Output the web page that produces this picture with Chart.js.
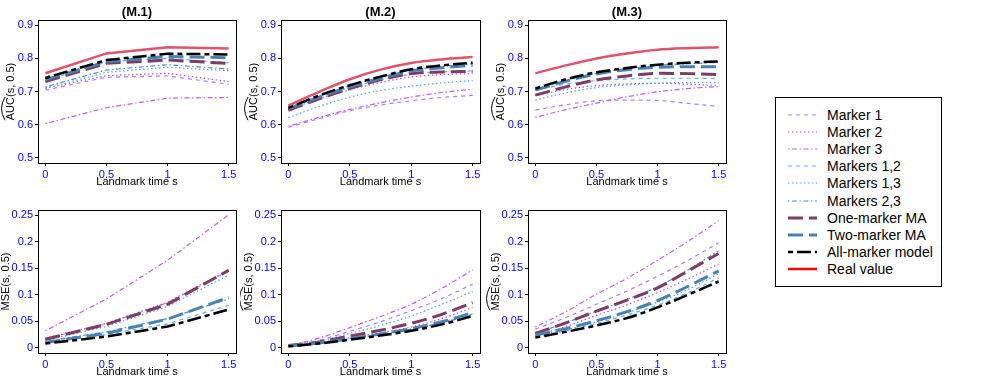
<!DOCTYPE html>
<html>
<head>
<meta charset="utf-8">
<script src="https://cdn.jsdelivr.net/npm/chart.js@4.4.1/dist/chart.umd.min.js"></script>
<style>
  body { margin: 0; background: #fff; font-family: Arial, "Liberation Sans", sans-serif; }
  #wrap { position: relative; width: 981px; height: 382px; overflow: hidden; }
  #wrap canvas { position: absolute; }
  #legend { position: absolute; left: 775px; top: 97px; width: 167px; height: 190px;
            border: 1px solid #000; box-sizing: border-box; }
  .row { position: absolute; left: 0; height: 18px; width: 165px; }
  .row svg { position: absolute; left: 11px; top: 7px; }
  .row span { position: absolute; left: 51px; top: 0; line-height: 18px; font-size: 14px; color: #000; white-space: nowrap; }
</style>
</head>
<body>
<div id="wrap">
  <canvas id="a1"></canvas><canvas id="a2"></canvas><canvas id="a3"></canvas>
  <canvas id="b1"></canvas><canvas id="b2"></canvas><canvas id="b3"></canvas>
  <div id="legend"></div>
</div>
<script>
// landmark times
const sM1 = [0, 0.5, 1, 1.5];
const sM23 = [0, 0.25, 0.5, 0.75, 1, 1.25, 1.5];

const seriesNames = ["Marker 1", "Marker 2", "Marker 3", "Markers 1,2", "Markers 1,3", "Markers 2,3",
  "One-marker MA", "Two-marker MA", "All-marker model", "Real value"];

const xTicks = [0, 0.5, 1, 1.5];
const aucTicks = [0.5, 0.6, 0.7, 0.8, 0.9];
const mseTicks = [0, 0.05, 0.1, 0.15, 0.2, 0.25];

// AUC(s, 0.5), rows follow seriesNames
const aucM1 = [
  [0.704, 0.743, 0.747, 0.722],
  [0.710, 0.748, 0.755, 0.730],
  [0.603, 0.651, 0.680, 0.682],
  [0.733, 0.790, 0.800, 0.787],
  [0.709, 0.758, 0.773, 0.763],
  [0.714, 0.765, 0.781, 0.768],
  [0.730, 0.785, 0.795, 0.785],
  [0.736, 0.790, 0.806, 0.802],
  [0.741, 0.795, 0.814, 0.812],
  [0.755, 0.815, 0.834, 0.830]
];
const aucM2 = [
  [0.592, 0.618, 0.642, 0.659, 0.672, 0.682, 0.688],
  [0.645, 0.678, 0.705, 0.727, 0.744, 0.751, 0.754],
  [0.595, 0.622, 0.646, 0.666, 0.683, 0.697, 0.707],
  [0.648, 0.682, 0.712, 0.735, 0.752, 0.759, 0.762],
  [0.621, 0.655, 0.683, 0.703, 0.716, 0.726, 0.733],
  [0.650, 0.686, 0.717, 0.743, 0.764, 0.776, 0.784],
  [0.643, 0.678, 0.709, 0.735, 0.754, 0.759, 0.761],
  [0.648, 0.683, 0.714, 0.740, 0.762, 0.772, 0.779],
  [0.651, 0.688, 0.719, 0.745, 0.767, 0.779, 0.787],
  [0.658, 0.699, 0.737, 0.766, 0.786, 0.797, 0.804]
];
const aucM3 = [
  [0.644, 0.660, 0.672, 0.674, 0.673, 0.664, 0.655],
  [0.688, 0.706, 0.718, 0.723, 0.725, 0.722, 0.718],
  [0.622, 0.645, 0.665, 0.684, 0.699, 0.709, 0.715],
  [0.705, 0.722, 0.733, 0.738, 0.740, 0.740, 0.739],
  [0.674, 0.696, 0.712, 0.720, 0.725, 0.727, 0.727],
  [0.706, 0.734, 0.755, 0.769, 0.779, 0.784, 0.788],
  [0.689, 0.714, 0.735, 0.747, 0.755, 0.754, 0.751],
  [0.704, 0.731, 0.753, 0.766, 0.773, 0.775, 0.775],
  [0.709, 0.737, 0.758, 0.771, 0.781, 0.787, 0.791],
  [0.755, 0.779, 0.800, 0.815, 0.826, 0.831, 0.834]
];

// MSE(s, 0.5), no real value row
const mseM1 = [
  [0.017, 0.045, 0.085, 0.145],
  [0.018, 0.046, 0.086, 0.147],
  [0.032, 0.092, 0.165, 0.251],
  [0.010, 0.025, 0.045, 0.080],
  [0.014, 0.040, 0.078, 0.137],
  [0.012, 0.030, 0.055, 0.092],
  [0.016, 0.044, 0.082, 0.146],
  [0.010, 0.027, 0.054, 0.095],
  [0.008, 0.021, 0.040, 0.072],
  null
];
const mseM2 = [
  [0.003, 0.014, 0.031, 0.049, 0.070, 0.093, 0.120],
  [0.003, 0.010, 0.019, 0.028, 0.039, 0.055, 0.076],
  [0.004, 0.018, 0.038, 0.059, 0.082, 0.112, 0.147],
  [0.003, 0.009, 0.017, 0.026, 0.035, 0.048, 0.064],
  [0.003, 0.012, 0.027, 0.042, 0.060, 0.082, 0.106],
  [0.003, 0.009, 0.017, 0.025, 0.035, 0.047, 0.063],
  [0.004, 0.011, 0.022, 0.033, 0.046, 0.063, 0.085],
  [0.003, 0.009, 0.017, 0.026, 0.036, 0.049, 0.066],
  [0.0025, 0.008, 0.015, 0.023, 0.032, 0.044, 0.060],
  null
];
const mseM3 = [
  [0.035, 0.057, 0.082, 0.107, 0.135, 0.165, 0.198],
  [0.022, 0.040, 0.061, 0.081, 0.104, 0.130, 0.158],
  [0.039, 0.068, 0.101, 0.131, 0.165, 0.201, 0.240],
  [0.021, 0.032, 0.046, 0.062, 0.080, 0.104, 0.132],
  [0.022, 0.034, 0.049, 0.066, 0.086, 0.110, 0.140],
  [0.027, 0.047, 0.069, 0.091, 0.115, 0.147, 0.183],
  [0.027, 0.047, 0.069, 0.090, 0.113, 0.145, 0.178],
  [0.024, 0.036, 0.051, 0.068, 0.089, 0.116, 0.145],
  [0.019, 0.030, 0.042, 0.056, 0.076, 0.100, 0.125],
  null
];

// styles
const lineColors = ["#a97cff", "#b64fd8", "#c85ae8", "#5aaeff", "#4aa3ee", "#4a8fd0",
  "#7f3b63", "#4682b4", "#000000", "#df536b"];
const legendColors = lineColors.slice(0, 9).concat(["#ff0000"]);
const lineWidths = [1.2, 1.2, 1.2, 1.2, 1.2, 1.2, 3, 3, 2.5, 2.5];
const lineDashes = [[4, 4], [1.5, 2.5], [1.5, 2.5, 5, 2.5], [4, 4], [1.5, 2.5], [1.5, 2.5, 5, 2.5],
  [15, 6], [15, 6], [5, 4, 14, 4], []];

const FONT = 'Arial, "Liberation Sans", sans-serif';

// box, title and hatted y label, drawn like base R
const decor = {
  id: "decor",
  afterDraw(chart, args, o) {
    const { ctx, chartArea: a } = chart;
    ctx.save();
    ctx.strokeStyle = "#000";
    ctx.lineWidth = 1;
    ctx.strokeRect(Math.round(a.left) + 0.5, Math.round(a.top) + 0.5,
      Math.round(a.right - a.left), Math.round(a.bottom - a.top));
    ctx.fillStyle = "#000";
    if (o.title) {
      ctx.font = "bold 13px " + FONT;
      ctx.textAlign = "center";
      ctx.textBaseline = "middle";
      ctx.fillText(o.title, (a.left + a.right) / 2, o.titleY);
    }
    ctx.translate(a.left - o.labOff, (a.top + a.bottom) / 2);
    ctx.rotate(-Math.PI / 2);
    ctx.font = "11px " + FONT;
    const full = o.word + "(s, 0.5)";
    const W = ctx.measureText(full).width;
    const w1 = ctx.measureText(o.word).width;
    ctx.textAlign = "left";
    ctx.textBaseline = "middle";
    ctx.fillText(full, -W / 2, 0);
    const x0 = -W / 2, x1 = -W / 2 + w1, yb = -6;
    ctx.beginPath();
    ctx.moveTo(x0, yb);
    ctx.quadraticCurveTo((x0 + x1) / 2, yb - 7, x1, yb);
    ctx.stroke();
    ctx.restore();
  }
};

function makePanel(id, geo, xs, rows, yMin, yMax, yTicks, word, title, smooth) {
  const cv = document.getElementById(id);
  cv.width = geo.w; cv.height = geo.h;
  cv.style.left = geo.x + "px"; cv.style.top = geo.y + "px";
  const datasets = [];
  rows.forEach((row, i) => {
    if (!row) return;
    datasets.push({
      label: seriesNames[i],
      data: row.map((v, j) => ({ x: xs[j], y: v })),
      borderColor: lineColors[i],
      borderWidth: lineWidths[i],
      borderDash: lineDashes[i],
      pointRadius: 0,
      fill: false,
      tension: 0,
      cubicInterpolationMode: smooth ? "monotone" : "default",
      order: seriesNames.length - i
    });
  });
  const tickFont = { family: FONT, size: 11 };
  new Chart(cv, {
    type: "line",
    data: { datasets },
    options: {
      responsive: false,
      animation: false,
      devicePixelRatio: 1,
      layout: { padding: { left: 0, top: geo.boxT - geo.y, right: geo.x + geo.w - geo.boxR, bottom: 0 } },
      plugins: {
        legend: { display: false },
        tooltip: { enabled: false },
        decor: { title, titleY: 12, labOff: word === "AUC" ? 27 : 32, word }
      },
      scales: {
        x: {
          type: "linear", min: -0.06, max: 1.56,
          afterBuildTicks: s => { s.ticks = xTicks.map(v => ({ value: v })); },
          afterFit: s => { s.height = geo.y + geo.h - geo.boxB; },
          ticks: { color: "#0000ff", font: tickFont, padding: 2, maxRotation: 0, autoSkip: false,
                   callback: v => String(v) },
          grid: { drawOnChartArea: false, drawTicks: true, tickLength: 3, color: "#000" },
          border: { display: false },
          title: { display: true, text: "Landmark time s", color: "#000",
                   font: { family: FONT, size: 11 }, padding: { top: 0, bottom: geo.xTitlePad } }
        },
        y: {
          type: "linear", min: yMin, max: yMax,
          afterBuildTicks: s => { s.ticks = yTicks.map(v => ({ value: v })); },
          afterFit: s => { s.width = geo.boxL - geo.x; },
          ticks: { color: "#0000ff", font: tickFont, padding: 2, autoSkip: false,
                   callback: v => String(+v.toFixed(2)) },
          grid: { drawOnChartArea: false, drawTicks: true, tickLength: 3, color: "#000" },
          border: { display: false }
        }
      }
    },
    plugins: [decor]
  });
}

const rowTop = { y: 0, h: 191, boxT: 20, boxB: 163, xTitlePad: 2 };
const rowBot = { y: 191, h: 191, boxT: 210, boxB: 353, xTitlePad: 3 };
const col1 = { x: 0, w: 240, boxL: 38, boxR: 236 };
const col2 = { x: 240, w: 248, boxL: 281, boxR: 480 };
const col3 = { x: 486, w: 254, boxL: 528, boxR: 726 };

makePanel("a1", { ...rowTop, ...col1 }, sM1, aucM1, 0.484, 0.916, aucTicks, "AUC", "(M.1)", false);
makePanel("a2", { ...rowTop, ...col2 }, sM23, aucM2, 0.484, 0.916, aucTicks, "AUC", "(M.2)", true);
makePanel("a3", { ...rowTop, ...col3 }, sM23, aucM3, 0.484, 0.916, aucTicks, "AUC", "(M.3)", true);
makePanel("b1", { ...rowBot, ...col1 }, sM1, mseM1, -0.01, 0.26, mseTicks, "MSE", null, false);
makePanel("b2", { ...rowBot, ...col2 }, sM23, mseM2, -0.01, 0.26, mseTicks, "MSE", null, true);
makePanel("b3", { ...rowBot, ...col3 }, sM23, mseM3, -0.01, 0.26, mseTicks, "MSE", null, true);

// legend
const legendBox = document.getElementById("legend");
seriesNames.forEach((name, i) => {
  const row = document.createElement("div");
  row.className = "row";
  row.style.top = (17 + i * 17.1 - 9) + "px";
  const dash = lineDashes[i].length ? lineDashes[i].join(" ") : "none";
  row.innerHTML = '<svg width="32" height="4"><line x1="1" y1="2" x2="30" y2="2" stroke="' + legendColors[i] +
    '" stroke-width="' + lineWidths[i] + '" stroke-dasharray="' + dash + '"/></svg><span>' + name + '</span>';
  legendBox.appendChild(row);
});
</script>
</body>
</html>
